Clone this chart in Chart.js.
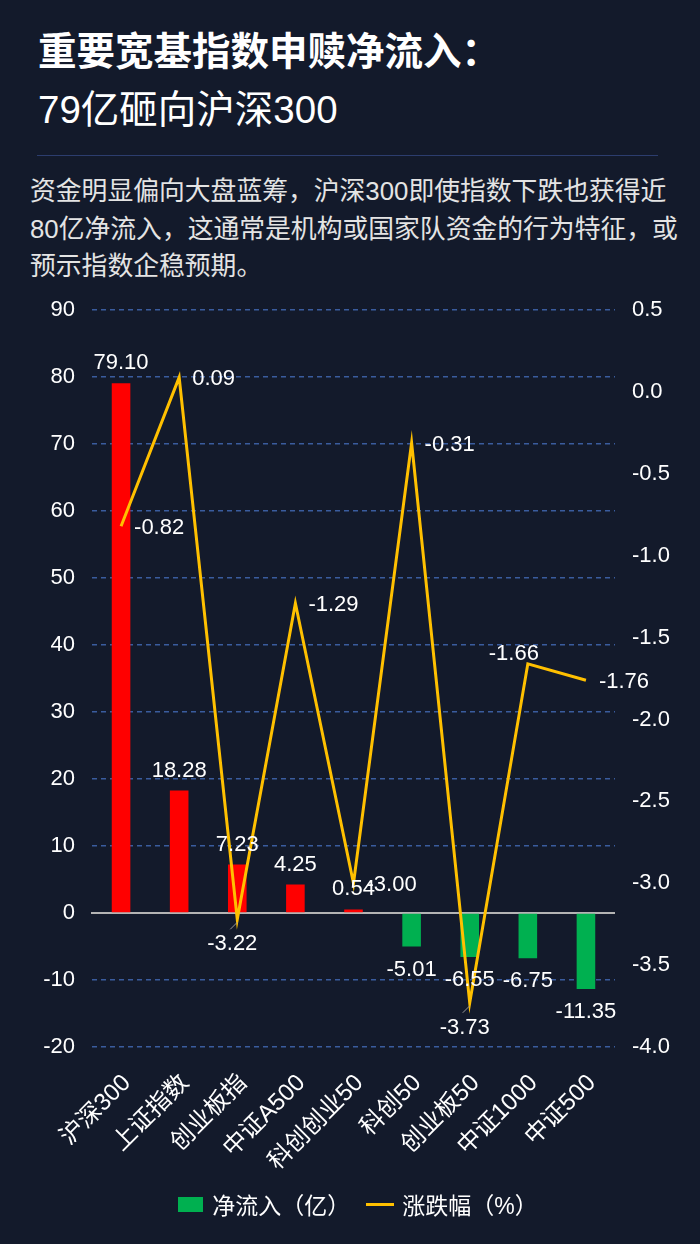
<!DOCTYPE html>
<html lang="zh-CN">
<head>
<meta charset="utf-8">
<title>重要宽基指数申赎净流入</title>
<script src="https://cdn.jsdelivr.net/npm/chart.js@4.4.1/dist/chart.umd.min.js"></script>
<style>
  html, body { margin: 0; padding: 0; }
  body {
    width: 700px; height: 1244px; position: relative; overflow: hidden;
    background: #131a2b;
    font-family: "Liberation Sans", "Noto Sans CJK SC", sans-serif;
    color: #fff;
  }
  .title { position: absolute; left: 38px; font-size: 38.5px; line-height: 50px; white-space: nowrap; }
  .t1 { top: 27px; font-weight: bold; }
  .t2 { top: 85px; font-weight: normal; }
  .sep { position: absolute; left: 37px; top: 155px; width: 621px; height: 1px; background: #2c3d6e; }
  .desc { position: absolute; left: 30px; top: 173px; font-size: 25.8px; line-height: 37.5px; color: #e4e4e4; white-space: nowrap; }
  .chart-box { position: absolute; left: 0; top: 280px; width: 700px; height: 910px; }
  .legend { position: absolute; left: 0; top: 1187px; width: 700px; box-sizing: border-box; padding-left: 16px; display: flex; justify-content: center; align-items: center; font-size: 23px; color: #fff; }
  .legend .box { width: 25px; height: 15px; margin-right: 9px; }
  .legend .ln { width: 28px; height: 3px; margin-right: 8px; margin-left: 16px; }
</style>
</head>
<body>
<div class="title t1">重要宽基指数申赎净流入：</div>
<div class="title t2">79亿砸向沪深300</div>
<div class="sep"></div>
<div class="desc">资金明显偏向大盘蓝筹，沪深300即使指数下跌也获得近<br>80亿净流入，这通常是机构或国家队资金的行为特征，或<br>预示指数企稳预期。</div>
<div class="chart-box"><canvas id="chartOne"></canvas></div>
<div class="legend" id="legend"></div>

<script>
// Data
const categories = ["沪深300", "上证指数", "创业板指", "中证A500", "科创创业50", "科创50", "创业板50", "中证1000", "中证500"];
const netInflow = [79.10, 18.28, 7.23, 4.25, 0.54, -5.01, -6.55, -6.75, -11.35];
const changePct = [-0.82, 0.09, -3.22, -1.29, -3.00, -0.31, -3.73, -1.66, -1.76];
const seriesNames = ["净流入（亿）", "涨跌幅（%）"];
const leftAxis = { min: -20, max: 90, step: 10 };
const rightAxis = { min: -4.0, max: 0.5, step: 0.5 };

const RED = "#ff0000";
const GREEN = "#00b050";
const YELLOW = "#ffc000";
const FONT = "'Liberation Sans', 'Noto Sans CJK SC', sans-serif";

// where each line label sits relative to its point
const lineLabelPos = ["right", "right", "below", "right", "right", "right", "below", "above", "right"];

// Solid grey zero line on the left axis
const zeroLine = {
  id: "zeroLine",
  beforeDatasetsDraw(chart) {
    const { ctx, chartArea, scales } = chart;
    const y = scales.y.getPixelForValue(0);
    ctx.save();
    ctx.strokeStyle = "#b4b4b4";
    ctx.lineWidth = 2;
    ctx.beginPath();
    ctx.moveTo(chartArea.left - 1, y);
    ctx.lineTo(chartArea.right, y);
    ctx.stroke();
    ctx.restore();
  }
};

// Value labels for bars and line points
const valueLabels = {
  id: "valueLabels",
  afterDatasetsDraw(chart) {
    const ctx = chart.ctx;
    ctx.save();
    ctx.font = "22px " + FONT;
    ctx.fillStyle = "#ffffff";
    ctx.textBaseline = "middle";

    chart.getDatasetMeta(0).data.forEach(function (bar, i) {
      const v = netInflow[i];
      ctx.textAlign = "center";
      ctx.fillText(v.toFixed(2), bar.x, v >= 0 ? bar.y - 20 : bar.y + 23);
    });

    chart.getDatasetMeta(1).data.forEach(function (pt, i) {
      const txt = changePct[i].toFixed(2);
      const pos = lineLabelPos[i];
      if (pos === "right") {
        ctx.textAlign = "left";
        ctx.fillText(txt, pt.x + 13, pt.y + 2);
      } else if (pos === "below") {
        ctx.strokeStyle = "#9a9a9a";
        ctx.lineWidth = 1;
        ctx.beginPath();
        ctx.moveTo(pt.x, pt.y + 3);
        ctx.lineTo(pt.x - 7, pt.y + 10);
        ctx.stroke();
        ctx.textAlign = "center";
        ctx.fillText(txt, pt.x - 5, pt.y + 25);
      } else {
        ctx.textAlign = "center";
        ctx.fillText(txt, pt.x - 14, pt.y - 10);
      }
    });
    ctx.restore();
  }
};

const chartOne = new Chart(document.getElementById("chartOne"), {
  type: "bar",
  data: {
    labels: categories,
    datasets: [
      {
        type: "bar",
        label: seriesNames[0],
        data: netInflow,
        yAxisID: "y",
        backgroundColor: netInflow.map(function (v) { return v >= 0 ? RED : GREEN; }),
        borderWidth: 0,
        barPercentage: 0.32,
        categoryPercentage: 1,
        order: 1,
      },
      {
        type: "line",
        label: seriesNames[1],
        data: changePct,
        yAxisID: "y1",
        borderColor: YELLOW,
        borderWidth: 3,
        pointRadius: 0,
        tension: 0,
        fill: false,
        order: 0,
      },
    ],
  },
  options: {
    responsive: true,
    maintainAspectRatio: false,
    animation: false,
    layout: { padding: { top: 28, left: 0, right: 0, bottom: 0 } },
    plugins: {
      legend: { display: false },
      tooltip: { enabled: false },
    },
    scales: {
      x: {
        grid: { display: false },
        border: { display: false },
        ticks: {
          color: "#ffffff",
          font: { size: 24, family: FONT },
          minRotation: 45,
          maxRotation: 45,
          padding: 14,
          labelOffset: 6,
        },
        afterFit: function (scale) { scale.height = 143; },
      },
      y: {
        position: "left",
        min: leftAxis.min,
        max: leftAxis.max,
        border: { display: false, dash: [5, 4] },
        grid: {
          drawTicks: false,
          lineWidth: 1.5,
          color: function (c) { return c.tick && c.tick.value === 0 ? "rgba(0,0,0,0)" : "#3a5c9e"; },
        },
        ticks: {
          stepSize: leftAxis.step,
          color: "#ffffff",
          padding: 17,
          font: { size: 22, family: FONT },
        },
        afterFit: function (scale) { scale.width = 92; },
      },
      y1: {
        position: "right",
        min: rightAxis.min,
        max: rightAxis.max,
        border: { display: false },
        grid: { display: false, drawTicks: false },
        ticks: {
          stepSize: rightAxis.step,
          color: "#ffffff",
          padding: 17,
          font: { size: 22, family: FONT },
          callback: function (v) { return Number(v).toFixed(1); },
        },
        afterFit: function (scale) { scale.width = 85; },
      },
    },
  },
  plugins: [zeroLine, valueLabels],
});

// HTML legend built from the datasets
const legendEl = document.getElementById("legend");
legendEl.innerHTML =
  '<span class="box" style="background:' + GREEN + '"></span><span>' + chartOne.data.datasets[0].label + '</span>' +
  '<span class="ln" style="background:' + YELLOW + '"></span><span>' + chartOne.data.datasets[1].label + '</span>';
</script>
</body>
</html>
